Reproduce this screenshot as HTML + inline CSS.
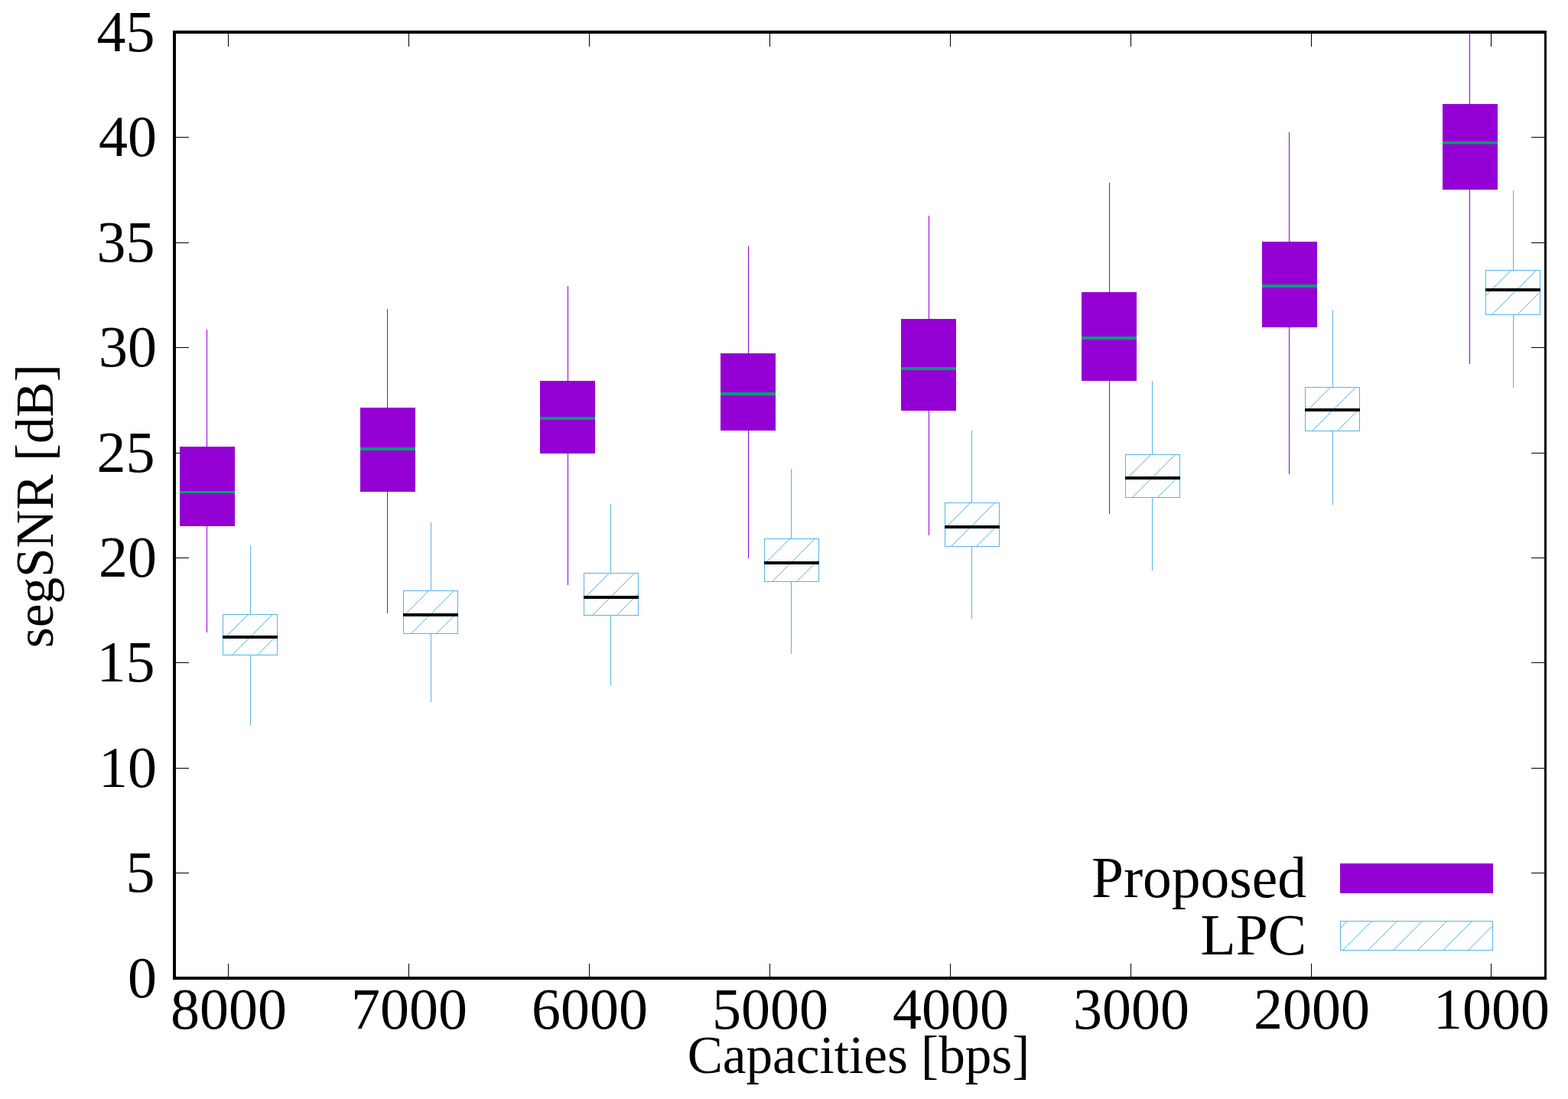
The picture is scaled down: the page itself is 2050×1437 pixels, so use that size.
<!DOCTYPE html>
<html lang="en"><head><meta charset="utf-8"><title>segSNR vs Capacities</title>
<style>
html,body{margin:0;padding:0;background:#fff;overflow:hidden;}
body{width:2050px;height:1437px;overflow:hidden;}
svg{display:block;}
text{font-family:"Liberation Serif","DejaVu Serif",serif;fill:#000;}
.t{font-size:76px;}
.l{font-size:69.2px;}
.g{font-size:75.5px;}
</style></head><body>
<svg width="2050" height="1437" viewBox="0 0 2050 1437">
<rect x="0" y="0" width="2050" height="1437" fill="#fff"/>
<defs>
<clipPath id="k0"><rect x="291.0" y="803.0" width="72.0" height="54.0"/></clipPath>
<clipPath id="k1"><rect x="527.0" y="772.0" width="72.0" height="57.0"/></clipPath>
<clipPath id="k2"><rect x="763.0" y="749.0" width="72.0" height="56.0"/></clipPath>
<clipPath id="k3"><rect x="999.0" y="704.0" width="72.0" height="57.0"/></clipPath>
<clipPath id="k4"><rect x="1235.0" y="657.0" width="72.0" height="58.0"/></clipPath>
<clipPath id="k5"><rect x="1471.0" y="594.0" width="72.0" height="57.0"/></clipPath>
<clipPath id="k6"><rect x="1706.0" y="506.0" width="72.0" height="58.0"/></clipPath>
<clipPath id="k7"><rect x="1942.0" y="353.0" width="72.0" height="59.0"/></clipPath>
<clipPath id="kl"><rect x="1752" y="1204" width="200" height="39"/></clipPath>
</defs>
<g fill="#000" shape-rendering="crispEdges">
<rect x="298" y="1260" width="1" height="18"/>
<rect x="298" y="43" width="1" height="18"/>
<rect x="534" y="1260" width="1" height="18"/>
<rect x="534" y="43" width="1" height="18"/>
<rect x="770" y="1260" width="1" height="18"/>
<rect x="770" y="43" width="1" height="18"/>
<rect x="1006" y="1260" width="1" height="18"/>
<rect x="1006" y="43" width="1" height="18"/>
<rect x="1242" y="1260" width="1" height="18"/>
<rect x="1242" y="43" width="1" height="18"/>
<rect x="1478" y="1260" width="1" height="18"/>
<rect x="1478" y="43" width="1" height="18"/>
<rect x="1714" y="1260" width="1" height="18"/>
<rect x="1714" y="43" width="1" height="18"/>
<rect x="1949" y="1260" width="1" height="18"/>
<rect x="1949" y="43" width="1" height="18"/>
<rect x="229" y="179" width="18" height="1"/>
<rect x="2002" y="179" width="18" height="1"/>
<rect x="229" y="317" width="18" height="1"/>
<rect x="2002" y="317" width="18" height="1"/>
<rect x="229" y="454" width="18" height="1"/>
<rect x="2002" y="454" width="18" height="1"/>
<rect x="229" y="592" width="18" height="1"/>
<rect x="2002" y="592" width="18" height="1"/>
<rect x="229" y="729" width="18" height="1"/>
<rect x="2002" y="729" width="18" height="1"/>
<rect x="229" y="866" width="18" height="1"/>
<rect x="2002" y="866" width="18" height="1"/>
<rect x="229" y="1004" width="18" height="1"/>
<rect x="2002" y="1004" width="18" height="1"/>
<rect x="229" y="1141" width="18" height="1"/>
<rect x="2002" y="1141" width="18" height="1"/>
</g>
<g>
<rect x="270.0" y="431.0" width="1" height="396.0" fill="#9400D3"/>
<rect x="235" y="584" width="72" height="104" fill="#9400D3"/>
<rect x="235" y="642" width="72" height="3" fill="#009E73"/>
</g>
<g>
<rect x="506.0" y="404.0" width="1" height="398.0" fill="#9400D3"/>
<rect x="471" y="533" width="72" height="110" fill="#9400D3"/>
<rect x="471" y="585" width="72" height="4" fill="#009E73"/>
</g>
<g>
<rect x="742.0" y="374.0" width="1" height="391.0" fill="#9400D3"/>
<rect x="706" y="498" width="72" height="95" fill="#9400D3"/>
<rect x="706" y="545" width="72" height="4" fill="#009E73"/>
</g>
<g>
<rect x="978.0" y="322.0" width="1" height="408.0" fill="#9400D3"/>
<rect x="942" y="462" width="72" height="101" fill="#9400D3"/>
<rect x="942" y="513" width="72" height="4" fill="#009E73"/>
</g>
<g>
<rect x="1214.0" y="282.0" width="1" height="418.0" fill="#9400D3"/>
<rect x="1178" y="417" width="72" height="120" fill="#9400D3"/>
<rect x="1178" y="480" width="72" height="4" fill="#009E73"/>
</g>
<g>
<rect x="1450.0" y="239.0" width="1" height="433.0" fill="#9400D3"/>
<rect x="1414" y="382" width="72" height="116" fill="#9400D3"/>
<rect x="1414" y="440" width="72" height="4" fill="#009E73"/>
</g>
<g>
<rect x="1685.0" y="173.0" width="1" height="447.0" fill="#9400D3"/>
<rect x="1650" y="316" width="72" height="112" fill="#9400D3"/>
<rect x="1650" y="372" width="72" height="4" fill="#009E73"/>
</g>
<g>
<rect x="1921.0" y="44.0" width="1" height="432.0" fill="#9400D3"/>
<rect x="1886" y="136" width="72" height="112" fill="#9400D3"/>
<rect x="1886" y="185" width="72" height="3.4" fill="#009E73"/>
</g>
<g>
<rect x="327.0" y="713.0" width="1" height="90.0" fill="#56B4E9"/>
<rect x="327.0" y="857.0" width="1" height="91.0" fill="#56B4E9"/>
<path d="M269 859L327 801M301 859L359 801M334 859L392 801" stroke="#56B4E9" stroke-width="1" fill="none" shape-rendering="crispEdges" clip-path="url(#k0)"/>
<rect x="291.5" y="803.5" width="71.0" height="53.0" fill="none" stroke="#56B4E9" stroke-width="1"/>
<rect x="291.0" y="831.0" width="72.0" height="4" fill="#000"/>
</g>
<g>
<rect x="563.0" y="683.0" width="1" height="89.0" fill="#56B4E9"/>
<rect x="563.0" y="829.0" width="1" height="89.0" fill="#56B4E9"/>
<path d="M469 831L530 770M502 831L563 770M535 831L596 770M568 831L629 770" stroke="#56B4E9" stroke-width="1" fill="none" shape-rendering="crispEdges" clip-path="url(#k1)"/>
<rect x="527.5" y="772.5" width="71.0" height="56.0" fill="none" stroke="#56B4E9" stroke-width="1"/>
<rect x="527.0" y="802.0" width="72.0" height="4" fill="#000"/>
</g>
<g>
<rect x="798.0" y="659.0" width="1" height="90.0" fill="#56B4E9"/>
<rect x="798.0" y="805.0" width="1" height="91.0" fill="#56B4E9"/>
<path d="M706 807L766 747M739 807L799 747M772 807L832 747M804 807L864 747" stroke="#56B4E9" stroke-width="1" fill="none" shape-rendering="crispEdges" clip-path="url(#k2)"/>
<rect x="763.5" y="749.5" width="71.0" height="55.0" fill="none" stroke="#56B4E9" stroke-width="1"/>
<rect x="763.0" y="779.0" width="72.0" height="4" fill="#000"/>
</g>
<g>
<rect x="1034.0" y="613.0" width="1" height="91.0" fill="#56B4E9"/>
<rect x="1034.0" y="761.0" width="1" height="94.0" fill="#56B4E9"/>
<path d="M941 763L1002 702M974 763L1035 702M1007 763L1068 702M1039 763L1100 702" stroke="#56B4E9" stroke-width="1" fill="none" shape-rendering="crispEdges" clip-path="url(#k3)"/>
<rect x="999.5" y="704.5" width="71.0" height="56.0" fill="none" stroke="#56B4E9" stroke-width="1"/>
<rect x="999.0" y="734.0" width="72.0" height="4" fill="#000"/>
</g>
<g>
<rect x="1270.0" y="563.0" width="1" height="94.0" fill="#56B4E9"/>
<rect x="1270.0" y="715.0" width="1" height="94.0" fill="#56B4E9"/>
<path d="M1176 717L1238 655M1209 717L1271 655M1241 717L1303 655M1274 717L1336 655" stroke="#56B4E9" stroke-width="1" fill="none" shape-rendering="crispEdges" clip-path="url(#k4)"/>
<rect x="1235.5" y="657.5" width="71.0" height="57.0" fill="none" stroke="#56B4E9" stroke-width="1"/>
<rect x="1235.0" y="687.0" width="72.0" height="4" fill="#000"/>
</g>
<g>
<rect x="1506.0" y="498.0" width="1" height="96.0" fill="#56B4E9"/>
<rect x="1506.0" y="651.0" width="1" height="95.0" fill="#56B4E9"/>
<path d="M1413 653L1474 592M1446 653L1507 592M1478 653L1539 592M1511 653L1572 592" stroke="#56B4E9" stroke-width="1" fill="none" shape-rendering="crispEdges" clip-path="url(#k5)"/>
<rect x="1471.5" y="594.5" width="71.0" height="56.0" fill="none" stroke="#56B4E9" stroke-width="1"/>
<rect x="1471.0" y="623.0" width="72.0" height="4" fill="#000"/>
</g>
<g>
<rect x="1742.0" y="405.0" width="1" height="101.0" fill="#56B4E9"/>
<rect x="1742.0" y="564.0" width="1" height="96.0" fill="#56B4E9"/>
<path d="M1647 566L1709 504M1680 566L1742 504M1713 566L1775 504M1746 566L1808 504" stroke="#56B4E9" stroke-width="1" fill="none" shape-rendering="crispEdges" clip-path="url(#k6)"/>
<rect x="1706.5" y="506.5" width="71.0" height="57.0" fill="none" stroke="#56B4E9" stroke-width="1"/>
<rect x="1706.0" y="534.0" width="72.0" height="4" fill="#000"/>
</g>
<g>
<rect x="1978.0" y="249.0" width="1" height="104.0" fill="#56B4E9"/>
<rect x="1978.0" y="412.0" width="1" height="95.0" fill="#56B4E9"/>
<path d="M1882 414L1945 351M1915 414L1978 351M1948 414L2011 351M1981 414L2044 351" stroke="#56B4E9" stroke-width="1" fill="none" shape-rendering="crispEdges" clip-path="url(#k7)"/>
<rect x="1942.5" y="353.5" width="71.0" height="58.0" fill="none" stroke="#56B4E9" stroke-width="1"/>
<rect x="1942.0" y="377.0" width="72.0" height="4" fill="#000"/>
</g>
<rect x="292" y="835" width="1" height="1" fill="#fff"/>
<rect x="1707" y="538" width="1" height="1" fill="#fff"/>
<g fill="#000" shape-rendering="crispEdges">
<rect x="226" y="40" width="4" height="1241"/>
<rect x="226" y="40" width="1796" height="4"/>
<rect x="2019" y="40" width="3" height="1241"/>
<rect x="226" y="1277" width="1796" height="4"/>
</g>
<rect x="1752" y="1129" width="200" height="39" fill="#9400D3"/>
<path d="M1721 1245L1764 1202M1753 1245L1796 1202M1786 1245L1829 1202M1819 1245L1862 1202M1851 1245L1894 1202M1884 1245L1927 1202M1917 1245L1960 1202M1950 1245L1993 1202" stroke="#56B4E9" stroke-width="1" fill="none" shape-rendering="crispEdges" clip-path="url(#kl)"/>
<rect x="1752.5" y="1204.5" width="199" height="38" fill="none" stroke="#56B4E9" stroke-width="1"/>
<text class="g" x="1708" y="1172.6" text-anchor="end">Proposed</text>
<text class="g" x="1708" y="1247.9" text-anchor="end">LPC</text>
<text class="t" transform="translate(299.0 1345.4) scale(1 1.012)" text-anchor="middle">8000</text>
<text class="t" transform="translate(535.0 1345.4) scale(1 1.012)" text-anchor="middle">7000</text>
<text class="t" transform="translate(771.0 1345.4) scale(1 1.012)" text-anchor="middle">6000</text>
<text class="t" transform="translate(1007.0 1345.4) scale(1 1.012)" text-anchor="middle">5000</text>
<text class="t" transform="translate(1243.0 1345.4) scale(1 1.012)" text-anchor="middle">4000</text>
<text class="t" transform="translate(1479.0 1345.4) scale(1 1.012)" text-anchor="middle">3000</text>
<text class="t" transform="translate(1715.0 1345.4) scale(1 1.012)" text-anchor="middle">2000</text>
<text class="t" transform="translate(1950.0 1345.4) scale(1 1.012)" text-anchor="middle">1000</text>
<text class="t" transform="translate(205 1303.9) scale(1 1.012)" text-anchor="end">0</text>
<text class="t" transform="translate(202.5 1166.4) scale(1 1.012)" text-anchor="end">5</text>
<text class="t" transform="translate(205 1029.4) scale(1 1.012)" text-anchor="end">10</text>
<text class="t" transform="translate(202.5 891.4) scale(1 1.012)" text-anchor="end">15</text>
<text class="t" transform="translate(205 754.4) scale(1 1.012)" text-anchor="end">20</text>
<text class="t" transform="translate(202.5 617.4) scale(1 1.012)" text-anchor="end">25</text>
<text class="t" transform="translate(205 479.4) scale(1 1.012)" text-anchor="end">30</text>
<text class="t" transform="translate(202.5 342.4) scale(1 1.012)" text-anchor="end">35</text>
<text class="t" transform="translate(205 204.4) scale(1 1.012)" text-anchor="end">40</text>
<text class="t" transform="translate(202.5 66.9) scale(1 1.012)" text-anchor="end">45</text>
<text class="l" x="1122.5" y="1403.4" text-anchor="middle">Capacities [bps]</text>
<text class="l" transform="translate(69 661.7) rotate(-90)" text-anchor="middle">segSNR [dB]</text>
</svg>
</body></html>
